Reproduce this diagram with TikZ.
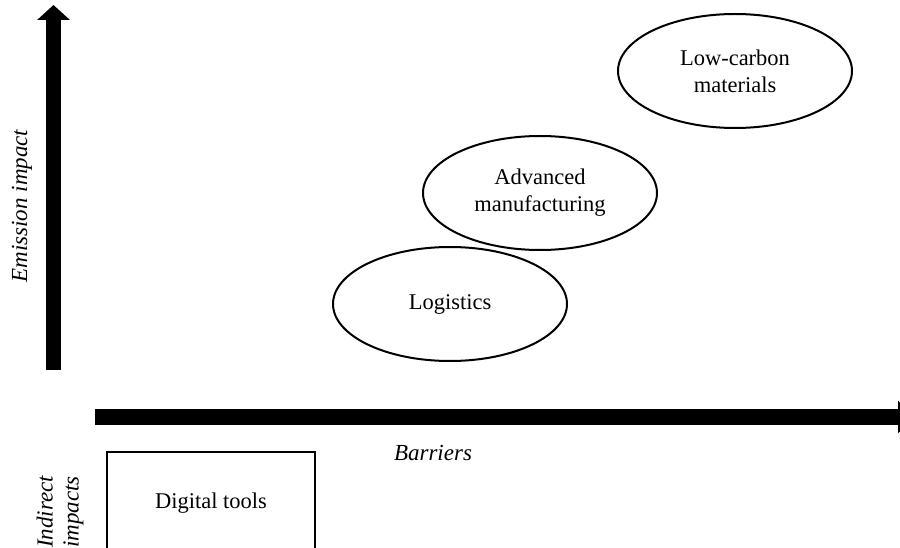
\documentclass[tikz,border=0pt]{standalone}
\usepackage{fontspec}
\setmainfont{Liberation Serif}
\usetikzlibrary{arrows.meta,positioning,shapes.geometric}
\definecolor{mapink}{HTML}{000000}
\tikzset{
  txt/.style={font=\fontsize{22.5}{27}\selectfont, text=mapink, align=center},
  oval/.style={txt, ellipse, draw=mapink, line width=2pt, minimum width=234pt, minimum height=114pt, inner sep=0pt},
  cell/.style={txt, draw=mapink, line width=2pt, minimum width=208pt, minimum height=102pt, inner sep=0pt},
  axis/.style={line width=15.5pt, color=mapink, -{Triangle[length=15pt, width=32pt]}},
  lbl/.style={txt, font=\fontsize{23}{26}\selectfont\itshape},
}
\begin{document}
\begin{tikzpicture}[x=1pt, y=-1pt]
    \useasboundingbox (0,0) rectangle (900,548);
    % axes
    \coordinate (ybase) at (53.5,370);
    \coordinate (ytip) at (53.5,5);
    \coordinate (xbase) at (95,417);
    \coordinate (xtip) at (913,417);
    \draw[axis] (ybase) -- (ytip);
    \draw[axis] (xbase) -- (xtip);
    \node[lbl, rotate=90] (ylab) at (22,206) {Emission impact};
    \node[lbl] (xlab) at (433,453) {Barriers};
    \node[lbl, rotate=90] (ind) at (60,512) {Indirect\\impacts};
    % levers
    \node[oval] (mat) at (735,71) {Low-carbon\\materials};
    \node[oval] (man) at (540,193) {Advanced\\manufacturing};
    \node[oval] (log) at (450,304) {Logistics};
    \node[cell] (dig) at (211,503) {Digital tools};
  \end{tikzpicture}
\end{document}
